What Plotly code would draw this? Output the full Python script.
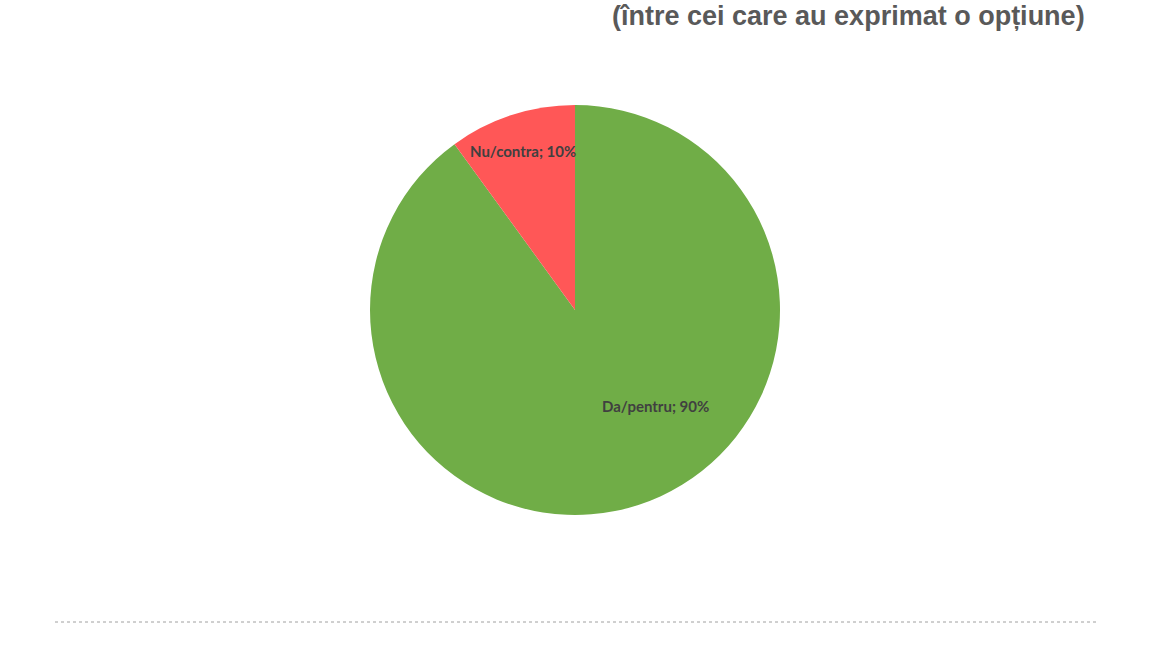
import math
import plotly.graph_objects as go

# ---- data ----
labels = ["Da/pentru", "Nu/contra"]
values = [90, 10]
colors = ["#70AD47", "#FF5757"]
subtitle = "(între cei care au exprimat o opțiune)"

# ---- label placement styles (fraction of radius, angle clockwise from top in deg) ----
label_rfrac = [0.61, 0.815]
label_angle = [140, None]  # None -> slice mid-angle

W, H = 1150, 647
cx, cy, r = 575, 310, 205
dom_x = [(cx - r) / W, (cx + r) / W]
dom_y = [1 - (cy + r) / H, 1 - (cy - r) / H]

fig = go.Figure(go.Pie(
    labels=labels, values=values, sort=False, direction="clockwise", rotation=0,
    marker=dict(colors=colors, line=dict(width=0)),
    textinfo="none", hoverinfo="label+percent", showlegend=False,
    domain=dict(x=dom_x, y=dom_y),
))

total = sum(values)
annotations = []
start = 0.0
for lab, v, rf, ang in zip(labels, values, label_rfrac, label_angle):
    span = 360.0 * v / total
    mid = start + span / 2 if ang is None else ang
    start += span
    px = cx + rf * r * math.sin(math.radians(mid))
    py = cy - rf * r * math.cos(math.radians(mid))
    annotations.append(dict(
        x=px / W, y=1 - py / H, xref="paper", yref="paper", showarrow=False,
        text=f"<b>{lab}; {round(100 * v / total)}%</b>",
        font=dict(family="Lato", size=15, color="#404040"),
        xanchor="center", yanchor="middle",
    ))

annotations.append(dict(
    x=1087 / W, y=1 - 16 / H, xref="paper", yref="paper", showarrow=False,
    text=f"<b>{subtitle}</b>", xanchor="right", yanchor="middle",
    font=dict(family="Liberation Sans", size=27, color="#595959"),
))

fig.update_layout(
    width=W, height=H, margin=dict(l=0, r=0, t=0, b=0),
    paper_bgcolor="white", plot_bgcolor="white",
    annotations=annotations,
    shapes=[dict(type="line", xref="paper", yref="paper",
                 x0=55 / W, x1=1097 / W,
                 y0=1 - 622 / H, y1=1 - 622 / H,
                 line=dict(color="#A0A0A0", width=1, dash="dot"))],
)

fig.write_html("out.html", config={"displayModeBar": False},
               post_script="document.body.style.margin='0';")
